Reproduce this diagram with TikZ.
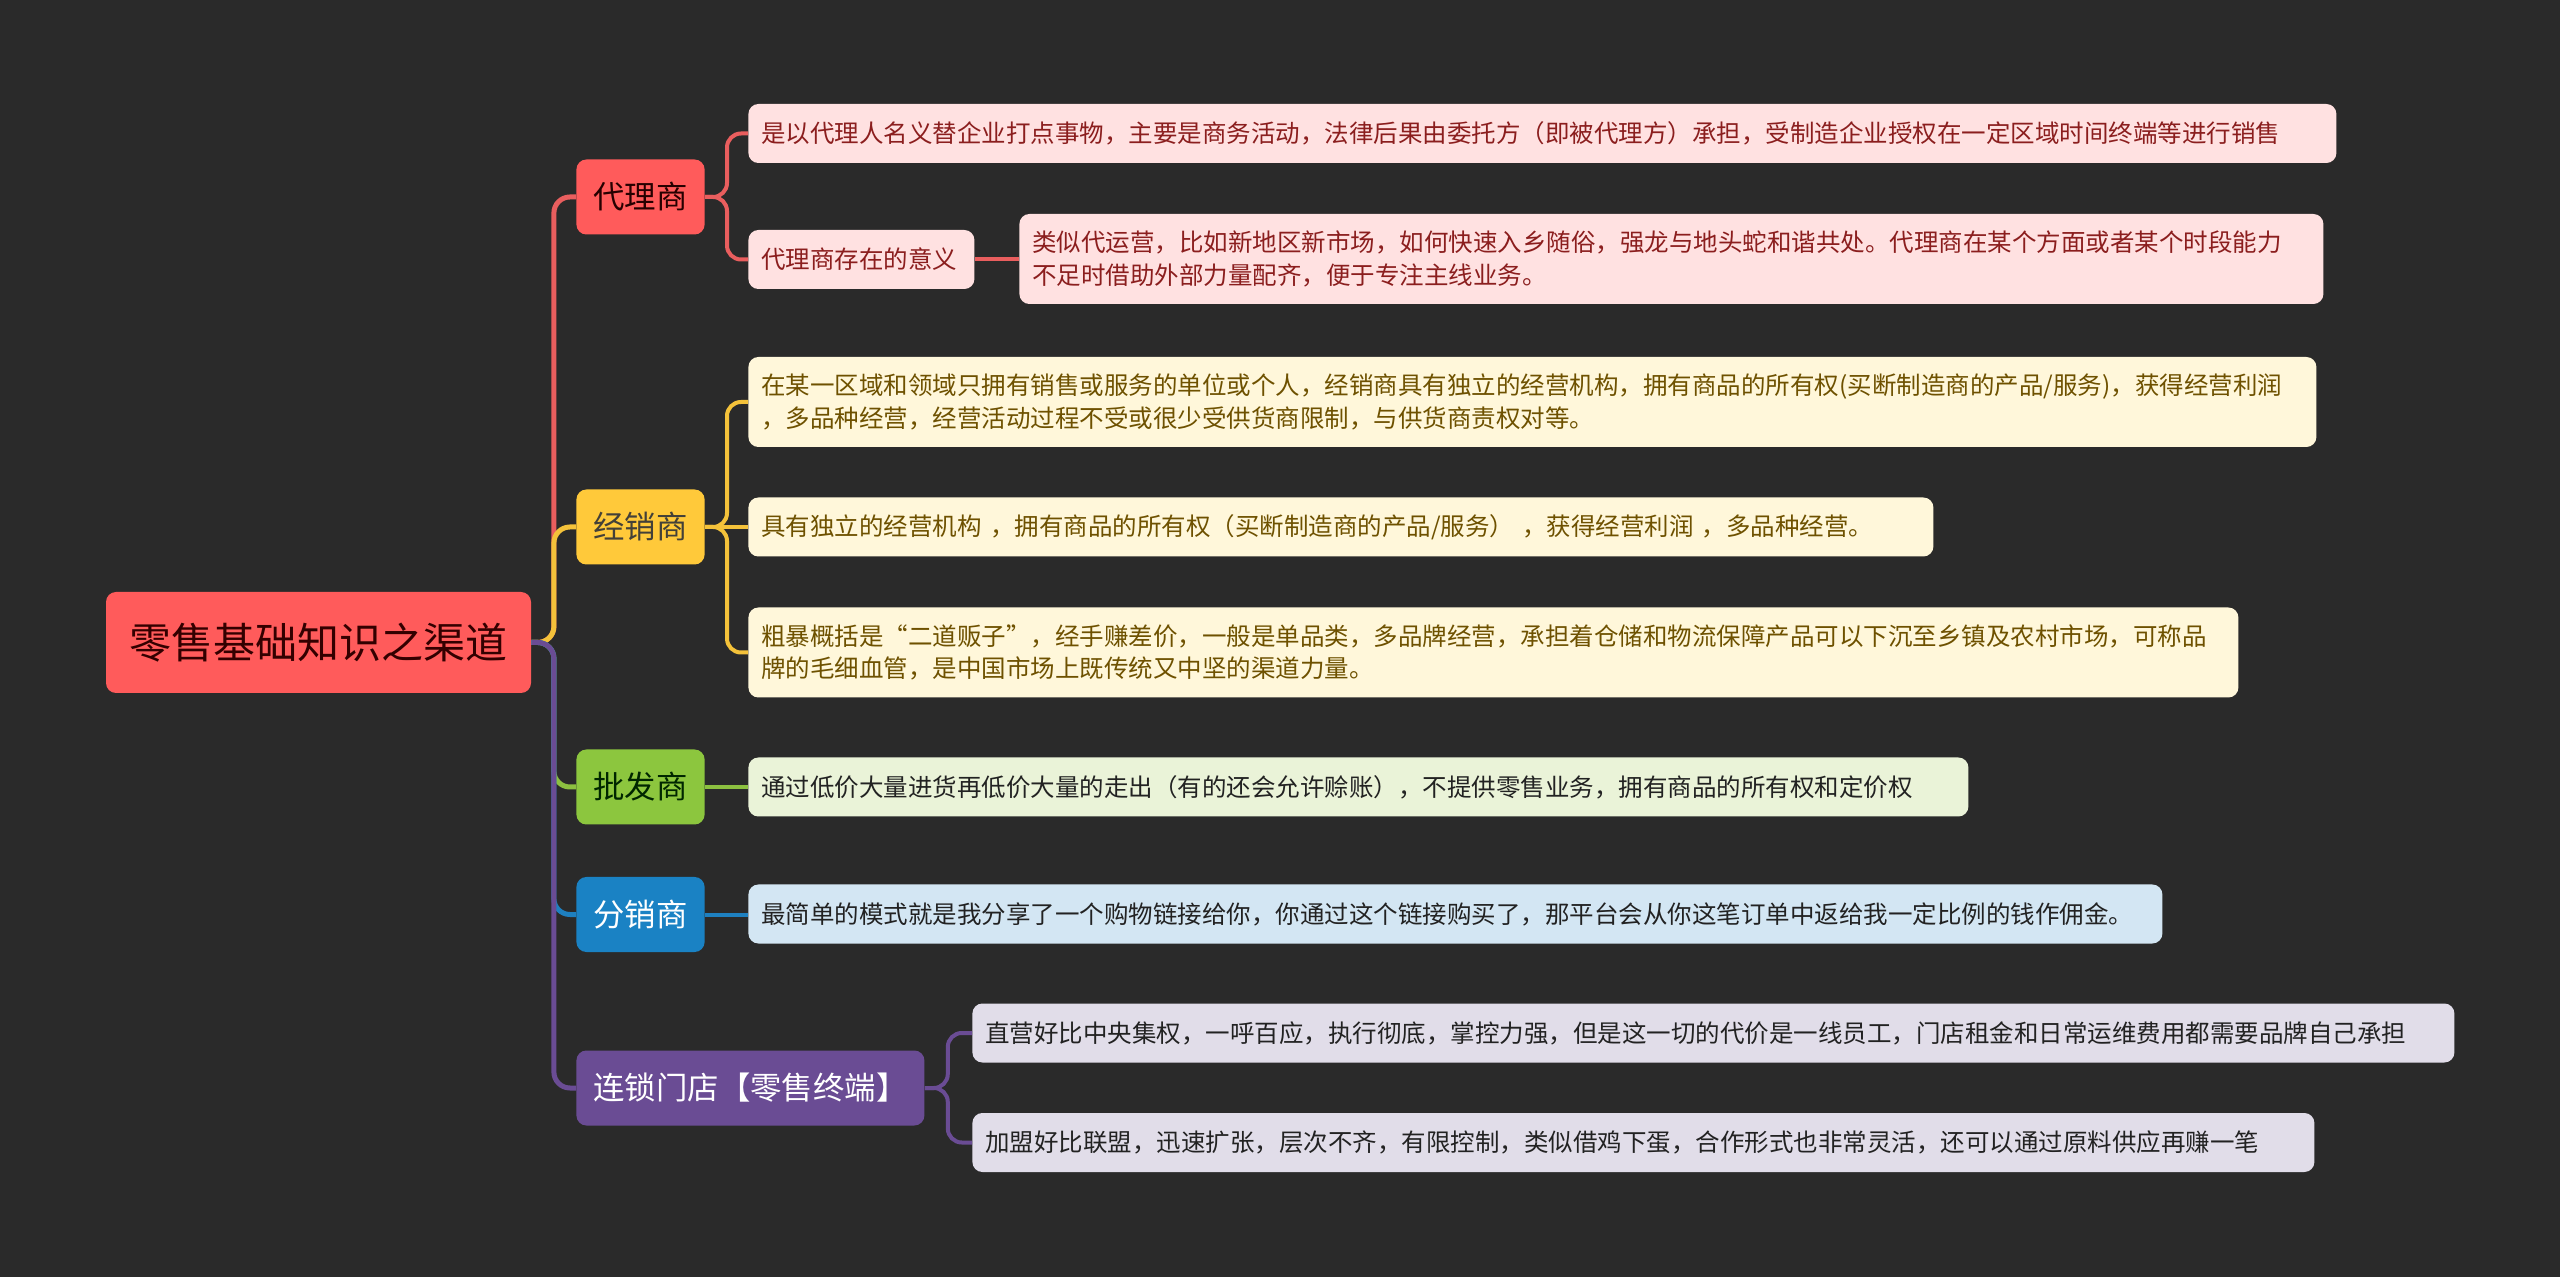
\documentclass[tikz,border=0pt]{standalone}
\usepackage{fontspec}
\setmainfont{Noto Sans CJK SC}
\usepackage{tikz}
\usepackage{xcolor}
\definecolor{bgdark}{HTML}{2A2A2A}
\definecolor{cred}{HTML}{FF5B5B}
\definecolor{cyel}{HTML}{FFC93A}
\definecolor{cgrn}{HTML}{8CC63E}
\definecolor{cblu}{HTML}{1A82C4}
\definecolor{cpur}{HTML}{6A4C94}
\definecolor{lred}{HTML}{E95E5E}
\definecolor{lyel}{HTML}{F4C23A}
\definecolor{lgrn}{HTML}{8CC040}
\definecolor{lblu}{HTML}{1E80C0}
\definecolor{fred}{HTML}{FFE1E1}
\definecolor{fyel}{HTML}{FFF7DA}
\definecolor{fgrn}{HTML}{EAF3D8}
\definecolor{fblu}{HTML}{D3E6F3}
\definecolor{fpur}{HTML}{E1DDE9}
\definecolor{tred}{HTML}{8B1E1E}
\definecolor{tyel}{HTML}{6E5100}
\definecolor{tdark}{HTML}{222222}

\begin{document}
\begin{tikzpicture}[x=0.5pt, y=-0.5pt,
  rootbox/.style={fill=cred, text=black!80!red, rounded corners=5pt, minimum width=212.5pt,
                  minimum height=50.5pt, inner sep=0pt, font=\fontsize{21pt}{24pt}\selectfont},
  branch/.style={rounded corners=5pt, minimum height=37.5pt, inner xsep=8.5pt, inner ysep=0pt,
                 anchor=west, font=\fontsize{15.7pt}{18pt}\selectfont},
  leaf/.style={rounded corners=5pt, inner xsep=6.5pt, inner ysep=0pt, minimum height=29.5pt,
               align=left, anchor=west, font=\fontsize{12.25pt}{16.3pt}\selectfont},
  twoline/.style={minimum height=45pt},
  leafred/.style={leaf, fill=fred, text=tred},
  leafyel/.style={leaf, fill=fyel, text=tyel},
  leafgrn/.style={leaf, fill=fgrn, text=tdark},
  leafblu/.style={leaf, fill=fblu, text=tdark},
  leafpur/.style={leaf, fill=fpur, text=tdark},
  trunk/.style={line width=2.5pt},
  twig/.style={line width=2pt}
]
\fill[bgdark] (0,0) rectangle (2560,1277);
\useasboundingbox (0,0) rectangle (2560,1277);

% centre
\node[rootbox] (root) at (318.5,642.5) {零售基础知识之渠道};

% channels
\node[branch, fill=cred, text=black!85!red] (dl) at (576,197) {代理商};
\node[branch, fill=cyel, text=black!85!yellow] (jx) at (576,527) {经销商};
\node[branch, fill=cgrn, text=black!85!green] (pf) at (576,787) {批发商};
\node[branch, fill=cblu, text=white] (fx) at (576,914.5) {分销商};
\node[branch, fill=cpur, text=white] (ls) at (576,1088) {连锁门店【零售终端】};

% details
\node[leafred, text width=781pt] (dl1) at (748,133.5) {是以代理人名义替企业打点事物，主要是商务活动，法律后果由委托方（即被代理方）承担，受制造企业授权在一定区域时间终端等进行销售};
\node[leafred, text width=100pt] (dl2) at (748,259.5) {代理商存在的意义};
\node[leafred, twoline, text width=639pt] (dl3) at (1019,259) {类似代运营，比如新地区新市场，如何快速入乡随俗，强龙与地头蛇和谐共处。代理商在某个方面或者某个时段能力\\
  不足时借助外部力量配齐，便于专注主线业务。};

\node[leafyel, twoline, text width=771pt] (jx1) at (748,402) {在某一区域和领域只拥有销售或服务的单位或个人，经销商具有独立的经营机构，拥有商品的所有权(买断制造商的产品/服务)，获得经营利润\\
  ，多品种经营，经营活动过程不受或很少受供货商限制，与供货商责权对等。};
\node[leafyel, text width=579.5pt] (jx2) at (748,527) {具有独立的经营机构 ，拥有商品的所有权（买断制造商的产品/服务） ，获得经营利润 ，多品种经营。};
\node[leafyel, twoline, text width=732pt] (jx3) at (748,652.5) {粗暴概括是“二道贩子”，经手赚差价，一般是单品类，多品牌经营，承担着仓储和物流保障产品可以下沉至乡镇及农村市场，可称品\\
  牌的毛细血管，是中国市场上既传统又中坚的渠道力量。};

\node[leafgrn, text width=597pt] (pf1) at (748,787) {通过低价大量进货再低价大量的走出（有的还会允许赊账），不提供零售业务，拥有商品的所有权和定价权};
\node[leafblu, text width=694pt] (fx1) at (748,914) {最简单的模式就是我分享了一个购物链接给你，你通过这个链接购买了，那平台会从你这笔订单中返给我一定比例的钱作佣金。};

\node[leafpur, text width=728pt] (ls1) at (972,1033) {直营好比中央集权，一呼百应，执行彻底，掌控力强，但是这一切的代价是一线员工，门店租金和日常运维费用都需要品牌自己承担};
\node[leafpur, text width=658pt] (ls2) at (972,1142.5) {加盟好比联盟，迅速扩张，层次不齐，有限控制，类似借鸡下蛋，合作形式也非常灵活，还可以通过原料供应再赚一笔};

% root to channels
\foreach \b/\c in {dl/lred, jx/lyel, pf/lgrn, fx/lblu, ls/cpur}
  \draw[trunk, \c] (\b.west) [rounded corners=8pt] -| ([xshift=11.25pt]root.east) [sharp corners] -- (root.east);

% channels to details
\foreach \l in {dl1, dl2}
  \draw[twig, lred] (\l.west) [rounded corners=7pt] -| ([xshift=11pt]dl.east) [sharp corners] -- (dl.east);
\draw[twig, lred] (dl2.east) -- (dl2.east -| dl3.west);
\foreach \l in {jx1, jx3}
  \draw[twig, lyel] (\l.west) [rounded corners=7pt] -| ([xshift=11pt]jx.east) [sharp corners] -- (jx.east);
\draw[twig, lyel] (jx.east) -- (jx.east -| jx2.west);
\draw[twig, lgrn] (pf.east) -- (pf.east -| pf1.west);
\draw[twig, lblu] (fx.east) -- (fx.east -| fx1.west);
\foreach \l in {ls1, ls2}
  \draw[twig, cpur] (\l.west) [rounded corners=7pt] -| ([xshift=11.5pt]ls.east) [sharp corners] -- (ls.east);
\end{tikzpicture}
\end{document}
